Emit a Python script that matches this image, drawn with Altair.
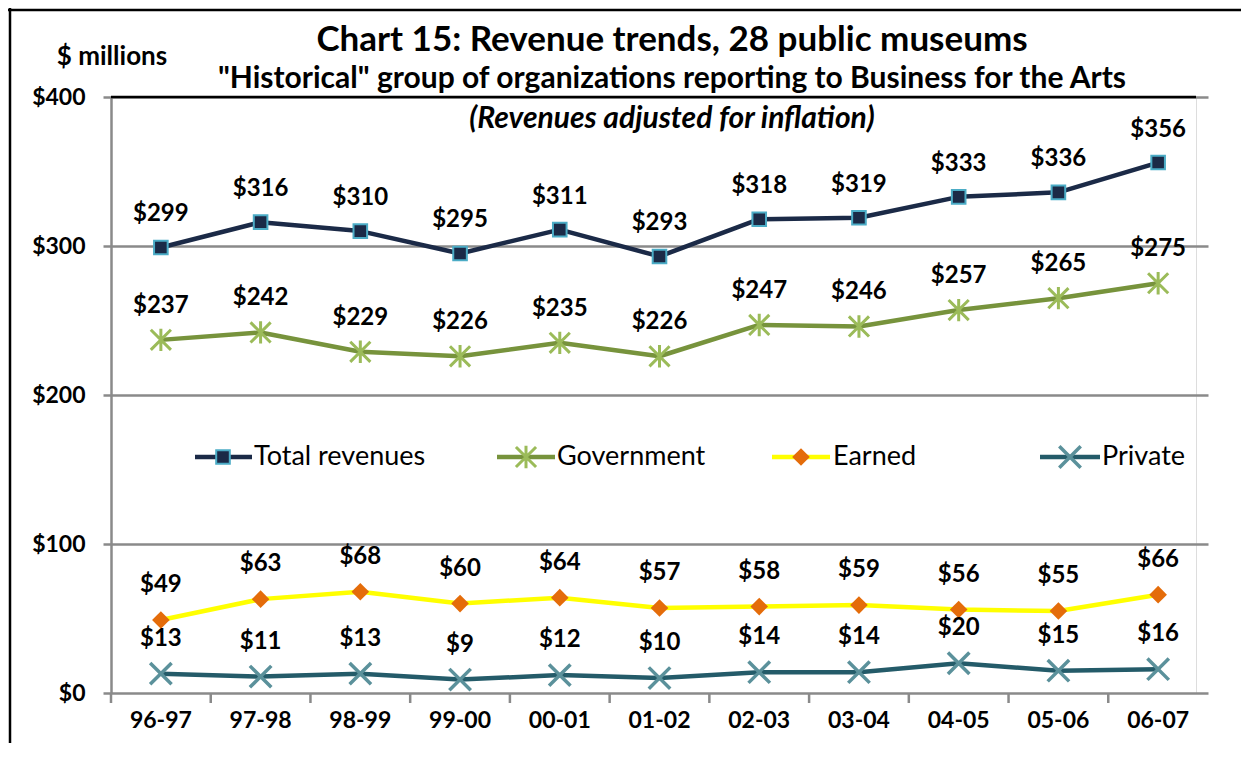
import altair as alt
import pandas as pd

# ---------------- data ----------------
years = ["96-97", "97-98", "98-99", "99-00", "00-01", "01-02",
         "02-03", "03-04", "04-05", "05-06", "06-07"]
total = [299, 316, 310, 295, 311, 293, 318, 319, 333, 336, 356]
government = [237, 242, 229, 226, 235, 226, 247, 246, 257, 265, 275]
earned = [49, 63, 68, 60, 64, 57, 58, 59, 56, 55, 66]
private = [13, 11, 13, 9, 12, 10, 14, 14, 20, 15, 16]
series_names = ["Total revenues", "Government", "Earned", "Private"]
y_ticks = [0, 100, 200, 300, 400]

title1 = "Chart 15: Revenue trends, 28 public museums"
title2 = "\"Historical\" group of organizations reporting to Business for the Arts"
title3 = "(Revenues adjusted for inflation)"
unit_label = "$ millions"

rows = []
for name, vals in zip(series_names, [total, government, earned, private]):
    for yr, v in zip(years, vals):
        rows.append({"year": yr, "series": name, "value": v})
df = pd.DataFrame(rows)

# ---------------- styling ----------------
W, H = 1085, 596
PAD = {"left": 103, "top": 89, "right": 45, "bottom": 50}
FONT = "Lato"
GRID = "#8A8A8A"

STAR = "M0,-1L0,1M-0.9,-0.9L0.9,0.9M-0.9,0.9L0.9,-0.9"
XSHAPE = "M-1,-1L1,1M-1,1L1,-1"

styles = {
    "Total revenues": dict(line="#1B2A47", shape="square", size=185, filled=True,
                           fill="#1B2A47", stroke="#4BACC6", sw=2, dy=-26,
                           lx=(84, 141, 112, 143)),
    "Government": dict(line="#77933C", shape=STAR, size=500, filled=False,
                       fill=None, stroke="#9BBB59", sw=3, dy=-27,
                       lx=(386, 444, 415, 446)),
    "Earned": dict(line="#FFFF00", shape="diamond", size=310, filled=True,
                   fill="#E46C0A", stroke=None, sw=0, dy=-28,
                   lx=(661, 719, 690, 722)),
    "Private": dict(line="#245B69", shape=XSHAPE, size=460, filled=False,
                    fill=None, stroke="#5B919B", sw=3.5, dy=-28,
                    lx=(929, 989, 959, 991)),
}

x_scale = alt.Scale(domain=years, range=[0, 1097], paddingInner=0, paddingOuter=0)
x_axis = alt.Axis(title=None, ticks=False, domain=False, labelAngle=0,
                  labelAlign="center",
                  labelFont=FONT, labelFontSize=23, labelFontWeight="bold",
                  labelColor="black", labelBaseline="alphabetic", labelPadding=34)
x_enc = alt.X("year:N", sort=years, scale=x_scale, axis=x_axis)
y_enc = alt.Y(
    "value:Q",
    scale=alt.Scale(domain=[0, 400], nice=False, zero=True),
    axis=alt.Axis(title=None, values=y_ticks, format="$.0f",
                  labelFont=FONT, labelFontSize=23, labelFontWeight="bold",
                  labelColor="black", labelPadding=18,
                  tickSize=8, tickColor=GRID, tickWidth=2.5,
                  domainColor=GRID, domainWidth=2.5,
                  grid=True, gridColor=GRID, gridWidth=2.5),
)

base = alt.Chart(df)
layers = []

# series lines
for name in series_names:
    s = styles[name]
    d = base.transform_filter(alt.datum.series == name)
    layers.append(d.mark_line(color=s["line"], strokeWidth=4.5, strokeJoin="round")
                  .encode(x=x_enc, y=y_enc))

# top black line at $400
layers.append(
    base.mark_rule(color="black", strokeWidth=2.5).encode(y=alt.datum(400))
    .transform_filter(alt.datum.series == "Total revenues").transform_filter(alt.datum.year == "96-97")
)

# x-axis ticks at band starts
layers.append(
    alt.Chart(pd.DataFrame({"year": years})).mark_rule(color=GRID, strokeWidth=2.5)
    .encode(x=alt.X("year:N", sort=years, scale=x_scale, axis=x_axis, bandPosition=0),
            y=alt.value(H), y2=alt.value(H + 10))
)

for name in series_names:
    s = styles[name]
    d = base.transform_filter(alt.datum.series == name)
    pt_kwargs = dict(shape=s["shape"], size=s["size"], filled=s["filled"], opacity=1)
    if s["fill"]:
        pt_kwargs["fill"] = s["fill"]
    if s["stroke"]:
        pt_kwargs["stroke"] = s["stroke"]
        pt_kwargs["strokeWidth"] = s["sw"]
    layers.append(d.mark_point(**pt_kwargs).encode(x=x_enc, y=y_enc))
    layers.append(d.mark_text(font=FONT, fontSize=24, fontWeight="bold", color="black",
                              baseline="alphabetic", dy=s["dy"])
                  .encode(x=x_enc, y=y_enc, text=alt.Text("value:Q", format="$.0f")))

    # legend entry
    x1, x2, xm, xt = s["lx"]
    one = alt.Chart(pd.DataFrame({"series": [name]}))
    layers.append(one.mark_rule(color=s["line"], strokeWidth=4.5)
                  .encode(x=alt.value(x1), x2=alt.value(x2), y=alt.value(360)))
    layers.append(one.mark_point(**pt_kwargs).encode(x=alt.value(xm), y=alt.value(360)))
    layers.append(one.mark_text(font=FONT, fontSize=27, color="black", align="left",
                                baseline="middle")
                  .encode(x=alt.value(xt), y=alt.value(360), text="series:N"))

# titles
def label(text, x, y, size, weight="bold", style="normal", align="center"):
    return (alt.Chart(pd.DataFrame({"t": [text]}))
            .mark_text(font=FONT, fontSize=size, fontWeight=weight, fontStyle=style,
                       color="black", align=align, baseline="alphabetic")
            .encode(text="t:N", x=alt.value(x), y=alt.value(y)))

layers.append(label(title1, 561, -46, 35))
layers.append(label(title2, 561, -9, 30))
layers.append(label(title3, 561, 31, 30, style="italic"))
layers.append(label(unit_label, 1, -32, 26))

# outer frame lines
frame = alt.Chart(pd.DataFrame({"f": [0]}))
layers.append(frame.mark_rule(color="black", strokeWidth=2.5)
              .encode(x=alt.value(-101), y=alt.value(-89), y2=alt.value(H + 60)))
layers.append(frame.mark_rule(color="black", strokeWidth=2.5)
              .encode(x=alt.value(-103), x2=alt.value(1200), y=alt.value(-87)))

chart = (alt.layer(*layers)
         .properties(width=W, height=H, padding=PAD,
                     autosize=alt.AutoSizeParams(type="none"))
         .configure_view(stroke=None)
         .configure(background="white"))

chart.save("out.html", embed_options={"renderer": "svg", "actions": False})
